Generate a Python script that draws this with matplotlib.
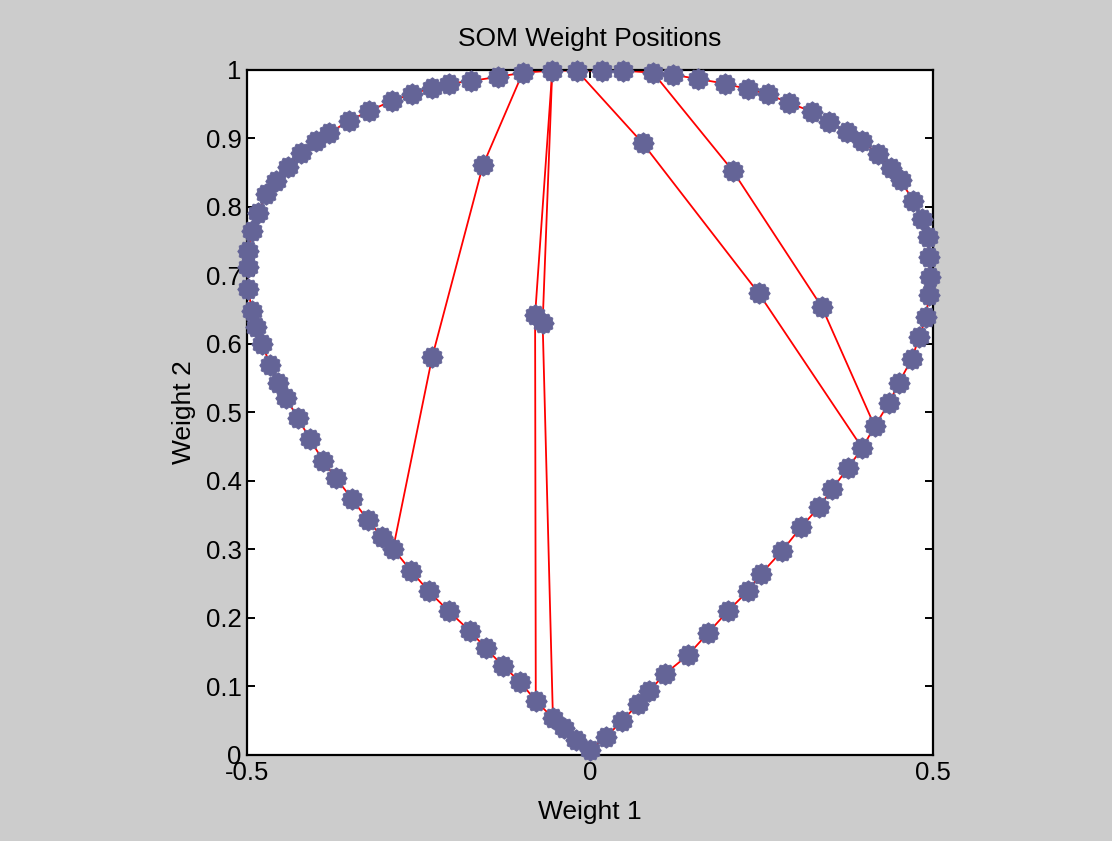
import numpy as np
import matplotlib.pyplot as plt
from matplotlib.path import Path

# weight positions: the outer ring first, then the inner nodes
ring_x = [0.000, -0.020, -0.038, -0.054, -0.079, -0.102, -0.127, -0.152, -0.175, -0.206,
          -0.235, -0.261, -0.287, -0.303, -0.324, -0.347, -0.370, -0.389, -0.408, -0.426,
          -0.443, -0.455, -0.466, -0.478, -0.487, -0.493, -0.498, -0.499, -0.498, -0.493,
          -0.484, -0.472, -0.458, -0.440, -0.421, -0.399, -0.380, -0.351, -0.322, -0.289,
          -0.259, -0.230, -0.206, -0.173, -0.134, -0.098, -0.055, -0.019, 0.017, 0.048,
          0.092, 0.121, 0.157, 0.197, 0.230, 0.259, 0.290, 0.324, 0.348, 0.375,
          0.397, 0.420, 0.439, 0.453, 0.471, 0.484, 0.493, 0.494, 0.496, 0.494,
          0.490, 0.480, 0.469, 0.450, 0.436, 0.415, 0.397, 0.376, 0.353, 0.334,
          0.308, 0.280, 0.249, 0.230, 0.201, 0.172, 0.143, 0.109, 0.086, 0.070,
          0.047, 0.023]
ring_y = [0.007, 0.022, 0.039, 0.054, 0.079, 0.107, 0.130, 0.156, 0.181, 0.210,
          0.239, 0.269, 0.301, 0.318, 0.343, 0.374, 0.404, 0.429, 0.461, 0.492,
          0.521, 0.543, 0.569, 0.600, 0.625, 0.648, 0.680, 0.712, 0.736, 0.765,
          0.791, 0.819, 0.838, 0.858, 0.879, 0.896, 0.908, 0.926, 0.940, 0.955,
          0.965, 0.974, 0.980, 0.984, 0.990, 0.996, 0.999, 0.999, 0.999, 0.999,
          0.996, 0.993, 0.987, 0.980, 0.972, 0.965, 0.952, 0.939, 0.924, 0.909,
          0.896, 0.877, 0.857, 0.839, 0.809, 0.782, 0.756, 0.727, 0.698, 0.672,
          0.639, 0.610, 0.578, 0.543, 0.514, 0.480, 0.448, 0.419, 0.388, 0.362,
          0.333, 0.298, 0.264, 0.239, 0.210, 0.178, 0.146, 0.118, 0.093, 0.074,
          0.050, 0.026]
inner_x = [-0.156, -0.230, -0.080, -0.069, 0.077, 0.246, 0.208, 0.338]
inner_y = [0.861, 0.581, 0.642, 0.631, 0.893, 0.674, 0.853, 0.654]

# links that cut across the ring (node indices, inner nodes start at 92)
chords = [[45, 92, 93, 12],
          [46, 94, 4],
          [46, 95, 3],
          [47, 96, 97, 76],
          [50, 98, 99, 75]]

wx = np.array(ring_x + inner_x)
wy = np.array(ring_y + inner_y)

# bumpy dot like the matlab marker
t = np.linspace(0, 2 * np.pi, 49)
r = 1 + 0.08 * np.cos(12 * t)
dot = Path(np.column_stack([r * np.cos(t), r * np.sin(t)]), closed=True)

plt.rcParams['font.family'] = ['Liberation Sans', 'DejaVu Sans']

fig = plt.figure(figsize=(11.12, 8.41), dpi=100, facecolor='#cccccc')
ax = fig.add_axes([0.2221, 0.1023, 0.6169, 0.8145])

n = len(ring_x)
loop = list(range(n)) + [0]
ax.plot(wx[loop], wy[loop], color='red', lw=1.3, zorder=2)
for c in chords:
    ax.plot(wx[c], wy[c], color='red', lw=1.3, zorder=2)

ax.plot(wx, wy, ls='none', marker=dot, ms=15.5, mfc='#646497', mec='#646497',
        mew=0.6, clip_on=False, zorder=3)

ax.set_xlim(-0.5, 0.5)
ax.set_ylim(0, 1)
ax.set_xticks([-0.5, 0, 0.5])
ax.set_xticklabels(['-0.5', '0', '0.5'])
ax.set_yticks(np.arange(0, 1.01, 0.1))
ax.set_yticklabels(['0', '0.1', '0.2', '0.3', '0.4', '0.5', '0.6', '0.7', '0.8', '0.9', '1'])
ax.tick_params(direction='in', length=6, width=1.4, labelsize=18.5, pad=4,
               top=True, right=True, colors='black')
for s in ax.spines.values():
    s.set_linewidth(1.6)

ax.set_title('SOM Weight Positions', fontsize=19, pad=17)
ax.set_xlabel('Weight 1', fontsize=19, labelpad=11)
ax.set_ylabel('Weight 2', fontsize=19, labelpad=7)

fig.savefig('out.png', dpi=100, facecolor=fig.get_facecolor())
